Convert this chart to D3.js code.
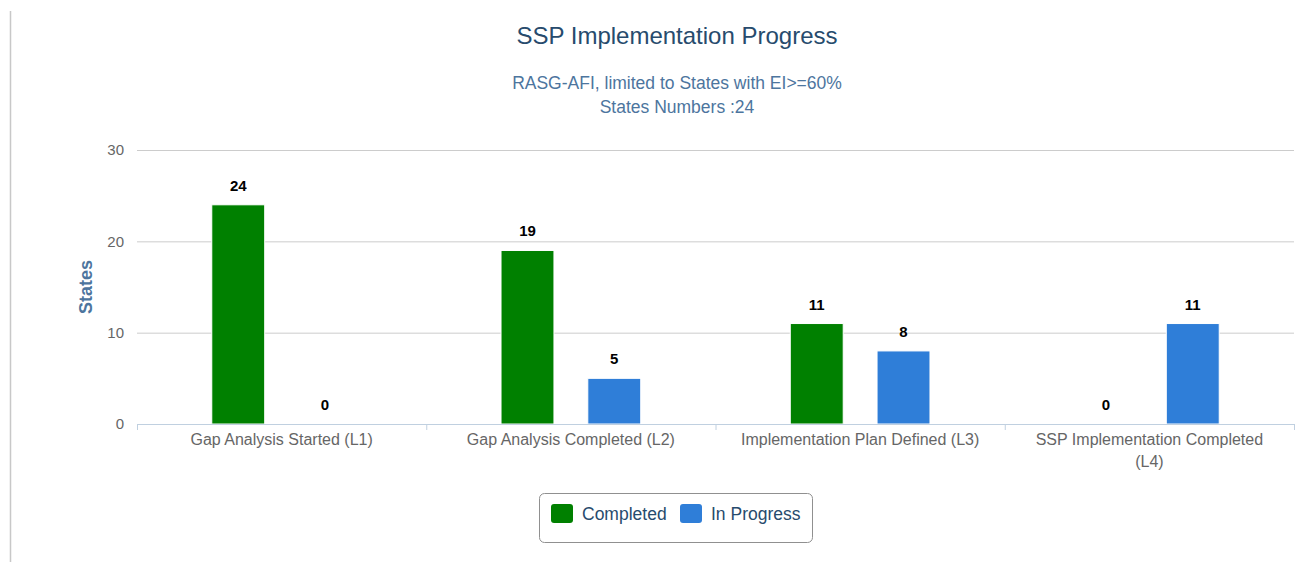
<!DOCTYPE html>
<html><head><meta charset="utf-8">
<script src="https://cdn.jsdelivr.net/npm/d3@7"></script>
<style>
html,body{margin:0;padding:0;background:#fff;}
svg{display:block;font-family:"Liberation Sans",Arial,sans-serif;}
</style></head>
<body><svg id="chart" width="1299" height="566"></svg>
<script>
const categories = ["Gap Analysis Started (L1)", "Gap Analysis Completed (L2)", "Implementation Plan Defined (L3)", "SSP Implementation Completed (L4)"];
const seriesNames = ["Completed", "In Progress"];
const completedValues = [24, 19, 11, 0];
const inProgressValues = [0, 5, 8, 11];
const seriesColors = ["#008000", "#2f7ed8"];
const yTicks = [0, 10, 20, 30];
const titleText = "SSP Implementation Progress";
const subtitleLines = ["RASG-AFI, limited to States with EI>=60%", "States Numbers :24"];
const yAxisTitle = "States";

(function(){
const series = [completedValues, inProgressValues];
const svg = d3.select("#chart");

// left frame line
svg.append("line").attr("x1",10.5).attr("x2",10.5).attr("y1",11).attr("y2",562)
  .attr("stroke","#c8c8c8").attr("stroke-width",1.5);

const pL = 137, pR = 1294, pT = 150, pB = 424;
const x0 = d3.scaleBand().domain(categories).range([pL, pR]).padding(0);
const bw = x0.bandwidth();
const x1 = d3.scaleBand().domain(seriesNames).range([bw*0.2, bw*0.8]).paddingInner(0.39).paddingOuter(0.195);
const y = d3.scaleLinear().domain([0, 30]).range([pB, pT]);

// title
svg.append("text").attr("x", 677).attr("y", 44).attr("text-anchor","middle")
  .attr("font-size", 24).attr("fill","#274b6d").text(titleText);
svg.append("text").attr("x", 677).attr("y", 89).attr("text-anchor","middle")
  .attr("font-size", 17.5).attr("fill","#4d759e")
  .selectAll("tspan").data(subtitleLines).join("tspan")
  .attr("x", 677).attr("dy",(d,i)=> i===0?0:24).text(d=>d);

// grid
const yAxis = d3.axisLeft(y).tickValues(yTicks).tickSize(-(pR-pL)).tickPadding(13);
const gy = svg.append("g").attr("transform",`translate(${pL},0)`).call(yAxis);
gy.select(".domain").remove();
gy.selectAll(".tick line").attr("stroke","#cccccc").attr("stroke-width",1)
  .filter(d=>d===0).remove();
gy.selectAll(".tick text").attr("fill","#666").attr("font-size",15)
  .attr("font-family","Liberation Sans, Arial, sans-serif");

// y-axis title
svg.append("text").attr("transform",`translate(92,${(pT+pB)/2}) rotate(-90)`)
  .attr("text-anchor","middle").attr("font-size",18).attr("font-weight","bold")
  .attr("fill","#4d759e").text(yAxisTitle);

// bars
const groups = svg.append("g").selectAll("g").data(categories).join("g")
  .attr("transform", d=>`translate(${x0(d)},0)`);
groups.selectAll("rect").data((d,i)=> seriesNames.map((s,j)=>({s, v: series[j][i], c: seriesColors[j]})))
  .join("rect")
  .attr("x", d=>x1(d.s)).attr("width", x1.bandwidth())
  .attr("y", d=>y(d.v)).attr("height", d=>y(0)-y(d.v))
  .attr("fill", d=>d.c).attr("stroke","#fff").attr("stroke-width",1);
groups.selectAll("text.lbl").data((d,i)=> seriesNames.map((s,j)=>({s, v: series[j][i]})))
  .join("text").attr("class","lbl")
  .attr("x", d=>x1(d.s)+x1.bandwidth()/2).attr("y", d=>y(d.v)-14)
  .attr("text-anchor","middle").attr("font-size",15).attr("font-weight","bold")
  .attr("fill","#000").text(d=>d.v);

// x axis
const xAxis = d3.axisBottom(x0).tickSize(0).tickPadding(0);
const gx = svg.append("g").attr("transform",`translate(0,${pB})`).call(xAxis);
gx.select(".domain").attr("stroke","#c0d0e0").attr("d",`M${pL},0.5H${pR}`);
gx.selectAll(".tick text").remove();
const bounds = categories.map(c=>x0(c)).concat([pR]);
gx.selectAll("line.bt").data(bounds).join("line").attr("class","bt")
  .attr("x1",d=>d+0.5).attr("x2",d=>d+0.5).attr("y1",0).attr("y2",6)
  .attr("stroke","#c0d0e0");
const maxW = 250;
gx.selectAll(".tick").append("text")
  .attr("text-anchor","middle").attr("font-size",16).attr("fill","#666")
  .attr("font-family","Liberation Sans, Arial, sans-serif")
  .each(function(d){
    const t = d3.select(this);
    const words = d.split(" ");
    let line = [], lines = [];
    const tmp = t.append("tspan");
    words.forEach(w=>{
      line.push(w); tmp.text(line.join(" "));
      if (tmp.node().getComputedTextLength() > maxW && line.length>1){ line.pop(); lines.push(line.join(" ")); line=[w]; }
    });
    lines.push(line.join(" "));
    tmp.remove();
    lines.forEach((l,i)=> t.append("tspan").attr("x",0).attr("y", 21 + i*22).text(l));
  });

// legend
const lg = svg.append("g");
lg.append("rect").attr("x",539.5).attr("y",493.5).attr("width",273).attr("height",49)
  .attr("rx",5).attr("fill","#fff").attr("stroke","#909090");
const items = lg.selectAll("g").data(seriesNames).join("g");
const symX = [551, 680];
items.append("rect").attr("x",(d,i)=>symX[i]).attr("y",504).attr("width",22).attr("height",19)
  .attr("rx",3).attr("fill",(d,i)=>seriesColors[i]);
items.append("text").attr("x",(d,i)=>symX[i]+31).attr("y",520).attr("font-size",17.5)
  .attr("fill","#274b6d").text(d=>d);
})();
</script></body></html>
